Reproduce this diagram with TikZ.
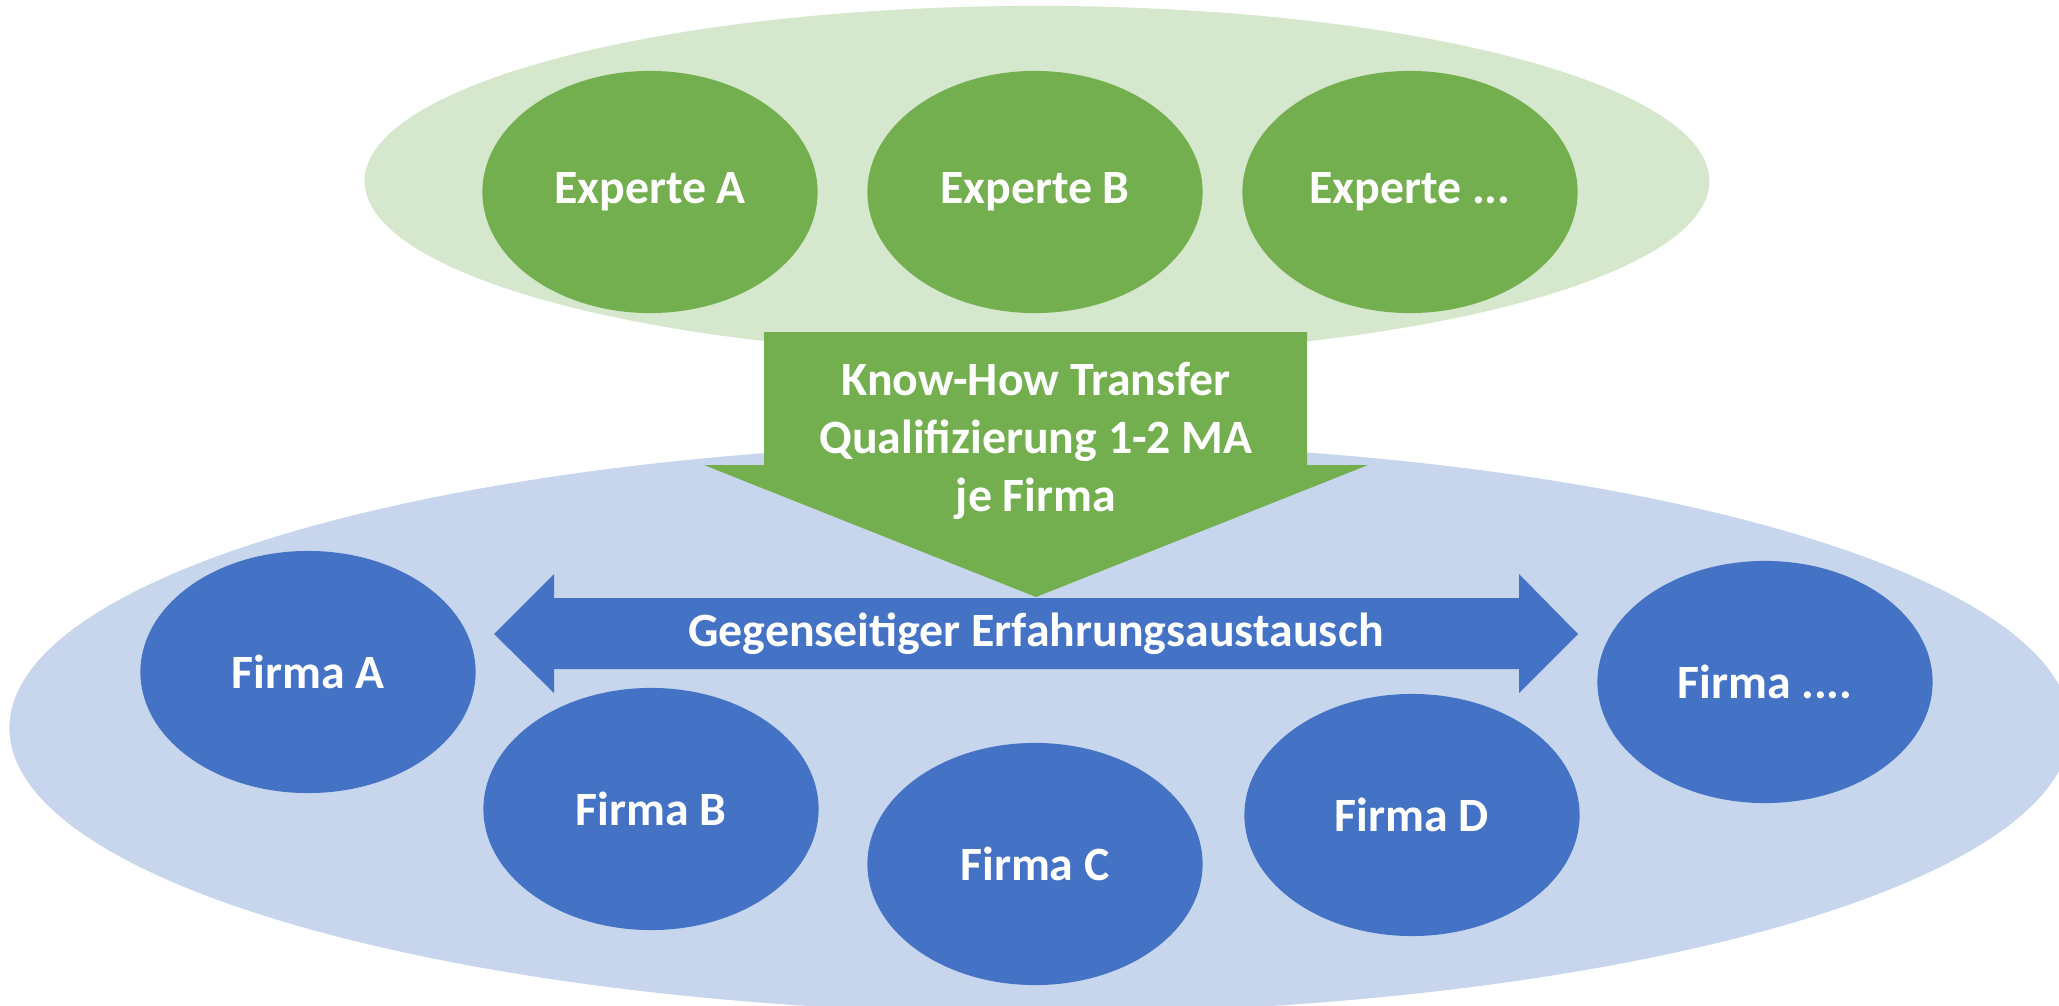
\documentclass[tikz,border=0pt]{standalone}
\usepackage{fontspec}
\setmainfont{Carlito}
\usepackage{xcolor}
\usepackage{tikz}
\usetikzlibrary{shapes.geometric, positioning}
\definecolor{palegreen}{HTML}{D5E7CD}
\definecolor{leafgreen}{HTML}{74AF4F}
\definecolor{paleblue}{HTML}{C7D5ED}
\definecolor{firmblue}{HTML}{4472C4}

\begin{document}
\begin{tikzpicture}[x=0.01cm, y=-0.01cm,
			blob/.style={ellipse, inner sep=0pt, minimum width=3.35cm, minimum height=2.42cm,
				text=white, font=\fontsize{13.6}{16.5}\selectfont\bfseries},
			expert/.style={blob, fill=leafgreen},
			firm/.style={blob, fill=firmblue},
			txt/.style={text=white, align=center, font=\fontsize{13.6}{16.5}\selectfont\bfseries}]
			
			\useasboundingbox (0,0) rectangle (2059,1006);
			\node[ellipse, fill=palegreen, inner sep=0pt, minimum width=13.44cm, minimum height=3.5cm] (experts) at (1037,181) {};
			\node[ellipse, fill=paleblue, inner sep=0pt, minimum width=20.6cm, minimum height=5.7cm] (firms) at (1040,728) {};
			
			\node[expert] (expA) at (650,192) {Experte A};
			\node[expert] (expB) at (1035,192) {Experte B};
			\node[expert] (expX) at (1410,192) {Experte ...};
			
			\fill[leafgreen] (764,332) -- (1307,332) -- (1307,465) -- (1368,465) -- (1036,597)
				-- (704,465) -- (764,465) -- cycle;
			\node[txt] (transfer) at (1036,441) {Know-How Transfer\\Qualifizierung 1-2 MA\\je Firma};
			
			\fill[firmblue] (494,634) -- (554,574) -- (554,598) -- (1519,598) -- (1519,574) -- (1578,634)
				-- (1519,693) -- (1519,669) -- (554,669) -- (554,693) -- cycle;
			\node[txt] (exchange) at (1036,634) {Gegenseitiger Erfahrungsaustausch};
			
			\node[firm] (firmA) at (308,672) {Firma A};
			\node[firm] (firmB) at (651,809) {Firma B};
			\node[firm] (firmC) at (1035,864) {Firma C};
			\node[firm] (firmD) at (1412,815) {Firma D};
			\node[firm] (firmX) at (1765,682) {Firma ....};
		\end{tikzpicture}
\end{document}
